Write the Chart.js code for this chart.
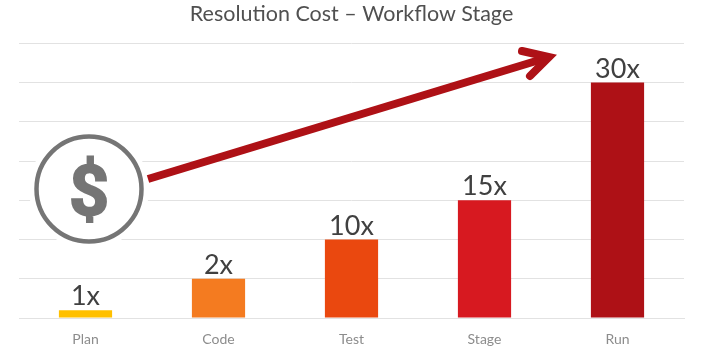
<!DOCTYPE html>
<html>
<head>
<meta charset="utf-8">
<style>
  html, body { margin: 0; padding: 0; background: #fff; }
  #wrap { position: relative; width: 702px; height: 351px; }
</style>
</head>
<body>
<div id="wrap"><canvas id="chart"></canvas></div>
<script src="https://cdn.jsdelivr.net/npm/chart.js@4"></script>
<script>
// ------------------ DATA ------------------
const stages = ["Plan", "Code", "Test", "Stage", "Run"];
const costs = [1, 5, 10, 15, 30];
const costLabels = ["1x", "2x", "10x", "15x", "30x"];
const barColors = ["#FFC000", "#F47B20", "#EA480F", "#D71920", "#AE1116"];
const chartTitle = "Resolution Cost \u2013 Workflow Stage";

// ------------------ PLUGINS ------------------
// Draws the "1x", "2x"... text just above each bar
const barLabels = {
    id: "barLabels",
    afterDatasetsDraw(chart) {
        const ctx = chart.ctx;
        ctx.save();
        ctx.font = "27px Lato";
        ctx.fillStyle = "#404040";
        ctx.textAlign = "center";
        ctx.textBaseline = "alphabetic";
        chart.getDatasetMeta(0).data.forEach((bar, i) => {
            ctx.fillText(costLabels[i], bar.x, bar.y - 5);
        });
        ctx.restore();
    }
};

// Dollar badge and the red arrow sitting on top of the plot
const costBadge = {
    id: "costBadge",
    afterDraw(chart) {
        const ctx = chart.ctx;
        ctx.save();

        // white halo cuts the gridlines around the badge
        ctx.fillStyle = "#fff";
        ctx.beginPath();
        ctx.arc(89, 189, 60, 0, Math.PI * 2);
        ctx.fill();

        ctx.strokeStyle = "#757575";
        ctx.lineWidth = 4.5;
        ctx.beginPath();
        ctx.arc(89, 189, 52.5, 0, Math.PI * 2);
        ctx.stroke();

        ctx.fillStyle = "#757575";
        ctx.font = "bold 70px Roboto";
        ctx.textAlign = "center";
        ctx.textBaseline = "middle";
        ctx.fillText("$", 89, 197);
        ctx.lineWidth = 2;
        ctx.strokeText("$", 89, 197);

        // arrow shaft
        ctx.strokeStyle = "#AE1116";
        ctx.lineWidth = 8;
        ctx.lineCap = "butt";
        ctx.beginPath();
        ctx.moveTo(148, 179);
        ctx.lineTo(546, 58);
        ctx.stroke();

        // arrow head
        ctx.lineCap = "round";
        ctx.lineJoin = "miter";
        ctx.miterLimit = 10;
        ctx.beginPath();
        ctx.moveTo(522, 51);
        ctx.lineTo(549, 57);
        ctx.lineTo(530, 76);
        ctx.stroke();

        ctx.restore();
    }
};

// ------------------ CHART ------------------
new Chart(document.getElementById("chart"), {
    type: "bar",
    data: {
        labels: stages,
        datasets: [{
            data: costs,
            backgroundColor: barColors,
            categoryPercentage: 0.4,
            barPercentage: 1
        }]
    },
    options: {
        responsive: true,
        maintainAspectRatio: false,
        animation: false,
        layout: { padding: { left: 19, right: 18, top: 0, bottom: 0 } },
        plugins: {
            legend: { display: false },
            tooltip: { enabled: false },
            title: {
                display: true,
                text: chartTitle,
                color: "#505050",
                font: { family: "Lato", size: 21.5, weight: "normal" },
                padding: { top: 1, bottom: 16.5 }
            }
        },
        scales: {
            x: {
                afterFit: (axis) => { axis.height = 33; },
                grid: { display: false },
                border: { color: "#e2e2e2" },
                ticks: {
                    color: "#8c8c8c",
                    font: { family: "Lato", size: 14 },
                    padding: 5
                }
            },
            y: {
                min: 0,
                max: 35,
                afterFit: (axis) => { axis.width = 0; },
                border: { display: false },
                grid: { color: "#e2e2e2", drawTicks: false },
                ticks: { display: false, stepSize: 5 }
            }
        }
    },
    plugins: [barLabels, costBadge]
});
</script>
</body>
</html>
